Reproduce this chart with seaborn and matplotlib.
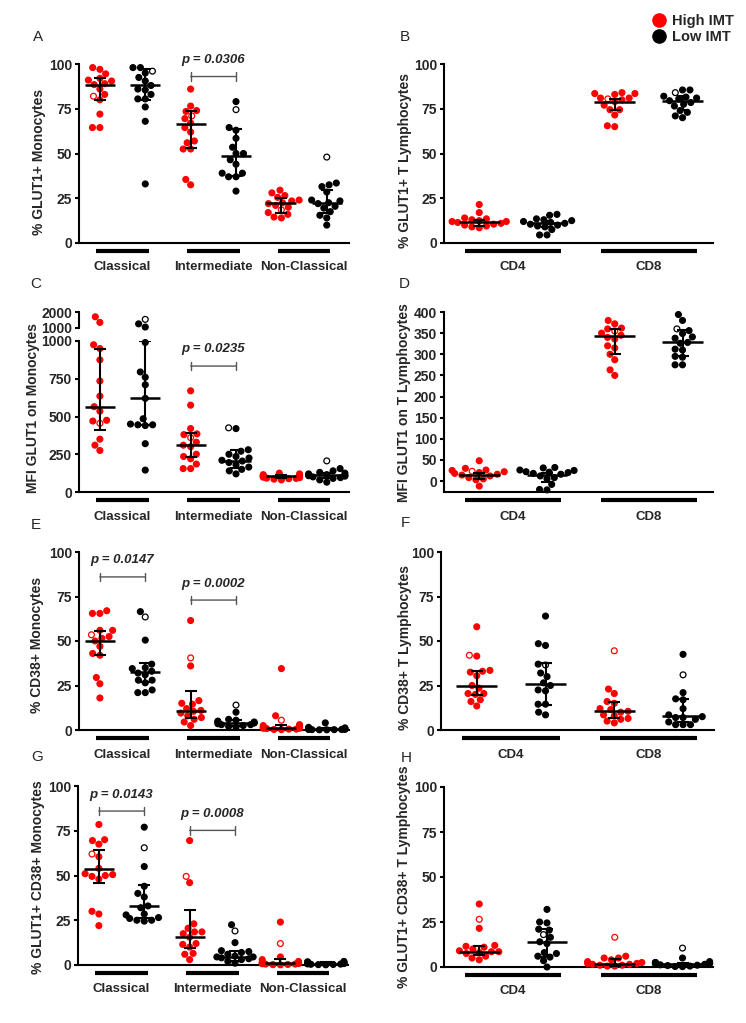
import numpy as np
import pandas as pd
import seaborn as sns
import matplotlib.pyplot as plt
from matplotlib.lines import Line2D
from matplotlib.transforms import blended_transform_factory

W, H = 746, 1023
RED = "#ff0000"
BLACK = "#000000"

mono_subsets = ["Classical", "Intermediate", "Non-Classical"]
t_subsets = ["CD4", "CD8"]

# order of groups in every panel: High IMT / Low IMT for each subset
# open circles are stored apart from the filled dots (None = no open dot)

# A: % GLUT1+ Monocytes
a_values = [
    [98, 97, 94.5, 92, 91, 90.5, 89, 88.5, 86, 83, 80, 72, 64.5, 64.5],
    [98, 98, 95, 92.5, 90.5, 88, 86, 85.5, 83, 80.5, 80.5, 76, 68, 33],
    [86, 76.5, 74, 73.5, 69.5, 67, 64.5, 62, 57, 56, 52.5, 52.5, 35.5, 32.5],
    [79, 64.5, 63, 58.5, 53.5, 50, 50, 46.5, 44, 39, 39, 37, 37, 29],
    [29.5, 28, 26.5, 25.5, 24, 23.5, 22.5, 22, 21, 20, 17, 16, 14.5, 14],
    [33.5, 32.5, 31.5, 28.5, 24, 23.5, 22.5, 22, 20.5, 19.5, 17.5, 15.5, 14, 10],
]
a_open = [82, 96, 71, 74.5, 18.5, 48]
a_median = [88.5, 88, 66.5, 48.5, 22.5, 22.5]
a_q1 = [80, 80, 53, 37.5, 17, 17]
a_q3 = [92, 97, 73.5, 63.5, 25, 29.5]

# B: % GLUT1+ T Lymphocytes
b_values = [
    [21.5, 17, 14, 13.5, 13, 12.5, 12, 12, 11.5, 11, 10.5, 10, 9.5, 9, 8.5],
    [16, 15.5, 13.5, 13, 12.5, 12, 11.5, 11, 10.5, 10, 9.5, 9, 7.5, 4.5, 4.5],
    [84, 83.5, 83.5, 83, 81, 81, 80, 79, 77, 74.5, 74.5, 71.5, 65.5, 65],
    [85.5, 85.5, 82, 81.5, 81, 80.5, 79.5, 78.5, 77.5, 76.5, 74, 73, 71, 70],
]
b_open = [None, None, 80.5, 84]
b_median = [12, 11, 79, 79.5]
b_q1 = [9.5, 9, 74.5, 74.5]
b_q3 = [13, 12.5, 80.5, 82]

# C: MFI GLUT1 on Monocytes
c_values = [
    [1700, 1350, 975, 950, 875, 735, 635, 565, 535, 475, 470, 350, 310, 275],
    [1260, 1060, 990, 795, 760, 710, 620, 485, 450, 445, 445, 440, 320, 145],
    [670, 575, 420, 385, 380, 330, 310, 300, 250, 235, 220, 185, 155, 155],
    [420, 280, 270, 250, 235, 225, 210, 205, 195, 180, 165, 150, 140, 120],
    [125, 120, 115, 110, 108, 105, 103, 100, 98, 95, 92, 90, 88, 85, 80],
    [155, 140, 130, 125, 120, 115, 110, 108, 105, 100, 95, 90, 80, 65],
]
c_open = [455, 1540, 360, 425, None, 206]
c_median = [565, 622, 310, 207, 103, 110]
c_q1 = [410, 445, 230, 160, 90, 92]
c_q3 = [945, 1000, 390, 277, 110, 125]

# D: MFI GLUT1 on T Lymphocytes
d_values = [
    [48, 30, 26, 25, 22, 20, 18, 16, 14, 12, 8, 5, 3, -12],
    [32, 31, 26, 25, 22, 21, 20, 18, 16, 12, 8, 5, -8, -20, -21],
    [380, 372, 362, 360, 350, 345, 340, 336, 320, 315, 300, 287, 263, 250],
    [394, 380, 356, 349, 341, 338, 328, 326, 312, 310, 295, 293, 275, 275],
]
d_open = [23, None, 355, 360]
d_median = [15, 15, 343, 328]
d_q1 = [4, -3, 301, 295]
d_q3 = [20, 20, 360, 357]

# E: % CD38+ Monocytes
e_values = [
    [67, 65.5, 65.5, 56, 56, 52.5, 51.5, 50, 47, 43, 42, 29.5, 26, 18],
    [66.5, 50.5, 37, 35, 34.5, 33, 32, 31, 28, 28, 26.5, 22.5, 21, 21],
    [61.5, 36, 16.5, 15, 14.5, 12, 11, 10.5, 9.5, 8, 7, 6, 4.5, 2.5],
    [10, 6, 5.5, 5, 4.5, 4.5, 4, 4, 3.5, 3, 3, 2.5, 2, 1.5],
    [34.5, 8, 3, 2.5, 2, 1.5, 1.5, 1, 1, 0.8, 0.5, 0.5, 0.3, 0.2],
    [4, 1.5, 1.2, 1, 0.8, 0.6, 0.5, 0.5, 0.4, 0.3, 0.3, 0.2, 0.2, 0.1, 0.1],
]
e_open = [53.5, 63.5, 40.5, 14, 5.5, None]
e_median = [50, 32.5, 10.5, 4, 1, 0.5]
e_q1 = [42, 27, 6.5, 2.5, 0.3, 0.2]
e_q3 = [55.5, 37.5, 22, 5.5, 3, 1]

# F: % CD38+ T Lymphocytes
f_values = [
    [58, 41.5, 33.5, 33, 32.5, 30.5, 25, 23.5, 20.5, 20.5, 20, 17, 16, 13.5],
    [64, 48.5, 47.5, 37, 32, 30, 26.5, 25, 22.5, 22, 14.5, 14.5, 10, 8.5],
    [23, 20.5, 16, 15, 12, 11.5, 10.5, 10, 8.5, 8, 6.5, 6, 5, 4],
    [42.5, 21, 17.5, 17, 12, 8.5, 7.5, 7, 7, 6, 4.5, 3, 3, 3],
]
f_open = [42, 36.5, 44.5, 31]
f_median = [25, 26, 10.5, 8]
f_q1 = [19.5, 14, 6.5, 4.5]
f_q3 = [33, 37.5, 16, 17.5]

# G: % GLUT1+ CD38+ Monocytes
g_values = [
    [78.5, 70, 69.5, 67.5, 60.5, 54, 51, 50.5, 50, 49.5, 48, 30, 28.5, 22],
    [77, 55, 44, 40, 38, 33, 32, 28.5, 28, 26.5, 26, 25, 25, 24.5],
    [69.5, 46, 23, 20.5, 18.5, 18.5, 17.5, 15.5, 12, 11.5, 10, 6.5, 6, 3],
    [22.5, 12.5, 8, 7.5, 7, 6, 5, 4.5, 4.5, 4, 3.5, 3, 2, 1],
    [24, 4.5, 3, 2, 1.5, 1.2, 1, 0.8, 0.7, 0.5, 0.5, 0.3, 0.2, 0.1],
    [2, 1.8, 1.6, 1.5, 1.3, 1.1, 1, 0.9, 0.8, 0.6, 0.5, 0.4, 0.3, 0.2, 0.1],
]
g_open = [62, 65.5, 49.5, 19, 12, None]
g_median = [53.5, 33, 15.5, 4.5, 1, 0.8]
g_q1 = [46, 26, 9.5, 2.5, 0.3, 0.4]
g_q3 = [64.5, 44.5, 31, 8, 3.5, 1.4]

# H: % GLUT1+ CD38+ T Lymphocytes
h_values = [
    [35, 21.5, 12, 11.5, 11, 10, 9, 8.5, 8.5, 8, 7.5, 6, 5, 4],
    [32, 25, 24.5, 21, 20.5, 16.5, 14, 13, 8, 7.5, 6, 5.5, 3.5, 0],
    [6, 5, 5, 4, 3, 2.5, 2, 2, 1.5, 1.5, 1, 1, 0.5, 0.5],
    [5, 3, 2.5, 2.5, 2, 2, 1.8, 1.5, 1.2, 1, 0.8, 0.5, 0.3, 0.2],
]
h_open = [26.5, 18, 16.5, 10.5]
h_median = [8.5, 14, 1.8, 1.5]
h_q1 = [6.5, 5.5, 0.5, 0.5]
h_q3 = [11.5, 21, 4.7, 2.5]

sns.set_theme(style="ticks")
plt.rcParams["font.family"] = ["Liberation Sans", "DejaVu Sans"]
plt.rcParams["font.weight"] = "bold"
plt.rcParams["axes.labelweight"] = "bold"

fig = plt.figure(figsize=(W / 100, H / 100), dpi=100)


def px_axes(left, top, right, bottom):
    return fig.add_axes([left / W, 1 - bottom / H, (right - left) / W, (bottom - top) / H])


def dots(ax, values, opens, lo=None, hi=None):
    colors = [RED, BLACK] * (len(values) // 2)
    rows = []
    for i, (vals, op) in enumerate(zip(values, opens)):
        pts = list(vals) + ([op] if op is not None else [])
        for v in pts:
            if (lo is None or v >= lo) and (hi is None or v <= hi):
                rows.append((str(i), v))
    df = pd.DataFrame(rows, columns=["grp", "value"])
    order = [str(i) for i in range(len(values))]
    n0 = len(ax.collections)
    sns.swarmplot(data=df, x="grp", y="value", hue="grp", order=order,
                  hue_order=order, palette=dict(zip(order, colors)),
                  size=4.2, legend=False, warn_thresh=1, ax=ax)
    for coll in ax.collections[n0:]:
        offs = np.asarray(coll.get_offsets())
        if len(offs) == 0:
            continue
        i = int(round(offs[0, 0]))
        faces = [colors[i]] * len(offs)
        if opens[i] is not None:
            hit = np.where(np.isclose(offs[:, 1], opens[i]))[0]
            if len(hit):
                faces[hit[0]] = "white"
        coll.set_facecolors(faces)
        coll.set_edgecolors(colors[i])
        coll.set_linewidths(0.9)
        coll.set_clip_on(False)
    ax.set_xlabel("")
    ax.set_ylabel("")


def summary(ax, med, q1, q3, half):
    x = np.arange(len(med))
    med, q1, q3 = np.array(med), np.array(q1), np.array(q3)
    ax.errorbar(x, med, yerr=[med - q1, q3 - med], fmt="none", ecolor="black",
                elinewidth=1.5, capsize=4.5, capthick=1.5, zorder=5)
    ax.hlines(med, x - half, x + half, colors="black", lw=1.8, zorder=5)


def style(ax, box, xlim, ylim, yticks, ylabel, lab_px, subsets, span):
    left, top, right, bottom = box
    h = bottom - top
    ax.set_xlim(*xlim)
    ax.set_ylim(*ylim)
    ax.set_yticks(yticks)
    ax.set_xticks([])
    sns.despine(ax=ax)
    for s in ["left", "bottom"]:
        ax.spines[s].set_linewidth(1.5)
        ax.spines[s].set_color("black")
    ax.tick_params(axis="y", length=3, width=1.5, labelsize=10, pad=2, color="black")
    ax.set_ylabel(ylabel, fontsize=10, va="center")
    ax.yaxis.set_label_coords((lab_px[0] - left) / (right - left), (bottom - lab_px[1]) / h)
    tr = blended_transform_factory(ax.transData, ax.transAxes)
    for k, name in enumerate(subsets):
        c = 2 * k + 0.5
        ax.plot([c - span, c + span], [-7.5 / h, -7.5 / h], color="black", lw=3,
                transform=tr, clip_on=False, solid_capstyle="butt")
        ax.text(c, -24.5 / h, name, transform=tr, ha="center", va="center", fontsize=9.5)


def bracket(ax, x1, x2, yb, yt, text):
    ax.annotate("", xy=(x1, yb), xytext=(x2, yb),
                arrowprops=dict(arrowstyle="|-|,widthA=0.25,widthB=0.25", lw=1,
                                color="#555555", shrinkA=0, shrinkB=0))
    ax.text((x1 + x2) / 2, yt, text, ha="center", va="center", fontsize=9.5,
            style="italic", fontweight="bold")


MONO_X = (-0.46, 5.49)
T_X = (-0.52, 3.45)
pct = [0, 25, 50, 75, 100]

# A
box = (79, 64, 349, 243)
ax = px_axes(*box)
dots(ax, a_values, a_open)
summary(ax, a_median, a_q1, a_q3, 0.33)
style(ax, box, MONO_X, (0, 100), pct, "% GLUT1+ Monocytes", (39, 162), mono_subsets, 0.58)
bracket(ax, 2, 3, 93, 102, "p = 0.0306")

# B
box = (444, 64, 713, 243)
ax = px_axes(*box)
dots(ax, b_values, b_open)
summary(ax, b_median, b_q1, b_q3, 0.30)
style(ax, box, T_X, (0, 100), pct, "% GLUT1+ T Lymphocytes", (405, 161), t_subsets, 0.71)

# C (broken axis)
box = (79, 341, 349, 492)
ax = px_axes(*box)
dots(ax, c_values, c_open, hi=1000)
summary(ax, c_median, c_q1, c_q3, 0.33)
style(ax, box, MONO_X, (0, 1000), [0, 250, 500, 750, 1000], "MFI GLUT1 on Monocytes",
      (33, 408), mono_subsets, 0.58)
bracket(ax, 2, 3, 834, 945, "p = 0.0235")
axu = px_axes(79, 312, 349, 328)
dots(axu, c_values, c_open, lo=1000.5)
axu.set_xlim(*MONO_X)
axu.set_ylim(1000, 2000)
axu.set_yticks([1000, 2000])
axu.set_xticks([])
sns.despine(ax=axu, bottom=True)
axu.spines["left"].set_linewidth(1.5)
axu.spines["left"].set_color("black")
axu.tick_params(axis="y", length=3, width=1.5, labelsize=10, pad=2, color="black")
axu.patch.set_visible(False)

# D
box = (444, 312, 713, 492)
ax = px_axes(*box)
dots(ax, d_values, d_open)
summary(ax, d_median, d_q1, d_q3, 0.30)
style(ax, box, T_X, (-26, 400), list(range(0, 401, 50)), "MFI GLUT1 on T Lymphocytes",
      (404, 403), t_subsets, 0.71)

# E
box = (79, 552, 349, 730)
ax = px_axes(*box)
dots(ax, e_values, e_open)
summary(ax, e_median, e_q1, e_q3, 0.33)
style(ax, box, MONO_X, (0, 100), pct, "% CD38+ Monocytes", (37, 645), mono_subsets, 0.58)
bracket(ax, 0, 1, 86, 95.3, "p = 0.0147")
bracket(ax, 2, 3, 73, 82, "p = 0.0002")

# F
box = (441, 552, 714, 730)
ax = px_axes(*box)
dots(ax, f_values, f_open)
summary(ax, f_median, f_q1, f_q3, 0.30)
style(ax, box, T_X, (0, 100), pct, "% CD38+ T Lymphocytes", (405, 647), t_subsets, 0.71)

# G
box = (78, 786, 348, 965)
ax = px_axes(*box)
dots(ax, g_values, g_open)
summary(ax, g_median, g_q1, g_q3, 0.33)
style(ax, box, MONO_X, (0, 100), pct, "% GLUT1+ CD38+ Monocytes", (38, 877), mono_subsets, 0.58)
bracket(ax, 0, 1, 86, 95.2, "p = 0.0143")
bracket(ax, 2, 3, 75.2, 84.2, "p = 0.0008")

# H
box = (444, 787, 713, 967)
ax = px_axes(*box)
dots(ax, h_values, h_open)
summary(ax, h_median, h_q1, h_q3, 0.30)
style(ax, box, T_X, (0, 100), pct, "% GLUT1+ CD38+ T Lymphocytes", (404, 877), t_subsets, 0.71)

for letter, x, y in [("A", 38, 37), ("B", 405, 37), ("C", 36, 284), ("D", 404, 284),
                     ("E", 36, 525), ("F", 405, 523), ("G", 37, 757), ("H", 406, 758)]:
    fig.text(x / W, 1 - y / H, letter, ha="center", va="center", fontsize=11,
             fontweight="normal")

handles = [Line2D([], [], marker="o", ls="", color=RED, markersize=9.5, label="High IMT"),
           Line2D([], [], marker="o", ls="", color=BLACK, markersize=9.5, label="Low IMT")]
fig.legend(handles=handles, loc="upper left", bbox_to_anchor=(652 / W, 1 - 14 / H),
           frameon=False, prop=dict(weight="bold", size=10.5), handlelength=1.0,
           handletextpad=0.4, borderpad=0, borderaxespad=0, labelspacing=0.15)

fig.savefig("out.png", dpi=100)
